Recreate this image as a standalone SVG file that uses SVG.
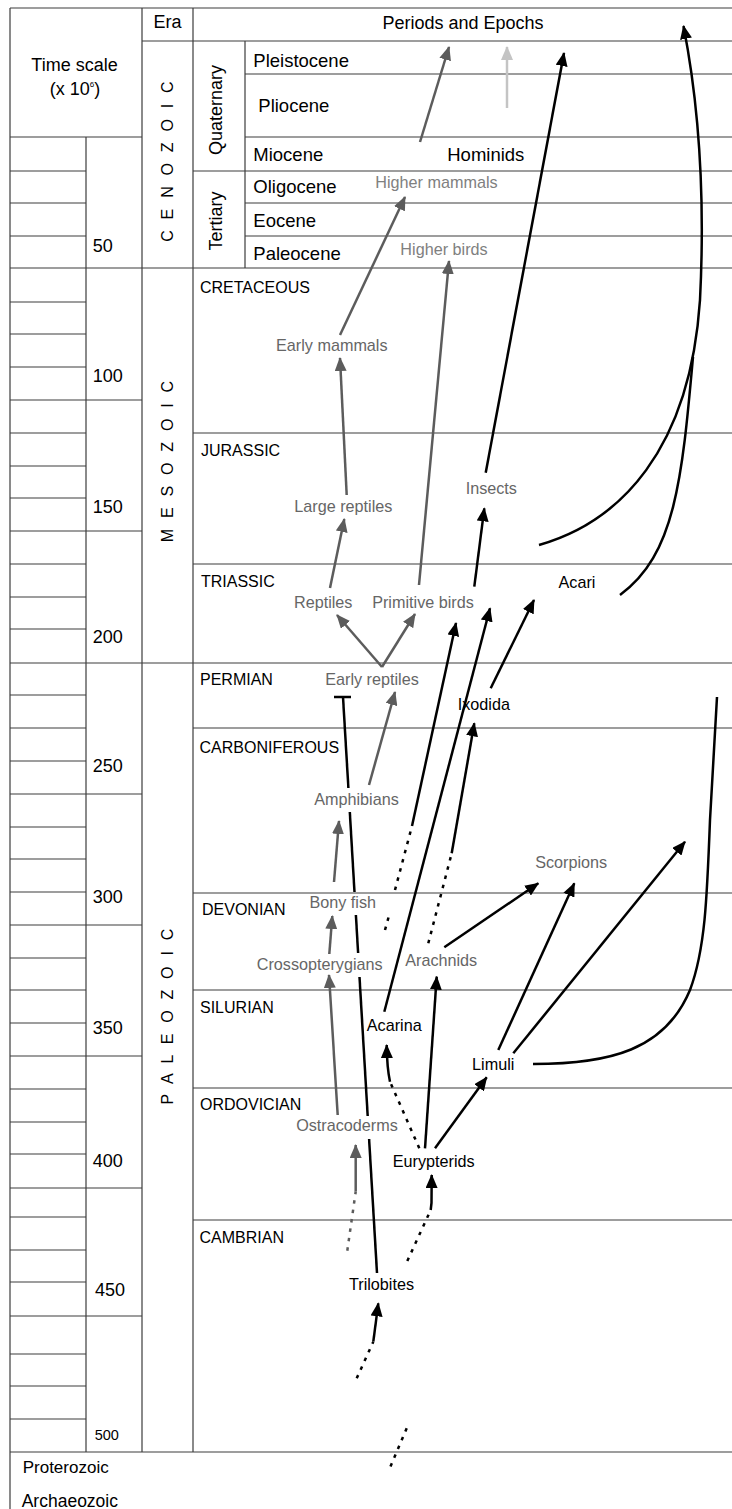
<svg xmlns="http://www.w3.org/2000/svg" width="732" height="1509" viewBox="0 0 732 1509">
<style>
text{font-family:"Liberation Sans",Arial,sans-serif;fill:#000}
.grid line{stroke:#3c3c3c;stroke-width:1.2}
.ep{font-size:18.5px}
.hd{font-size:18px}
.num{font-size:18px}
.per{font-size:16px}
.era{font-size:16px;letter-spacing:3.2px}
.nb{font-size:16.2px;text-anchor:middle}
.ng{font-size:16.2px;text-anchor:middle;fill:#666}
.nl{font-size:16.2px;text-anchor:middle;fill:#808080}
.cb{stroke:#000;stroke-width:2.5;fill:none}
.cg{stroke:#5c5c5c;stroke-width:2.5;fill:none}
.cl{stroke:#c4c4c4;stroke-width:2.5;fill:none}
.dot{stroke-dasharray:3.5 6}
.ab{marker-end:url(#mb)}
.ag{marker-end:url(#mg)}
.al{marker-end:url(#ml)}
</style>
<defs>
<marker id="mb" viewBox="0 0 14 12" refX="13" refY="6" markerWidth="14" markerHeight="12" markerUnits="userSpaceOnUse" orient="auto"><path d="M0,0 L14,6 L0,12 z" fill="#000"/></marker>
<marker id="mg" viewBox="0 0 14 12" refX="13" refY="6" markerWidth="14" markerHeight="12" markerUnits="userSpaceOnUse" orient="auto"><path d="M0,0 L14,6 L0,12 z" fill="#5c5c5c"/></marker>
<marker id="ml" viewBox="0 0 14 12" refX="13" refY="6" markerWidth="14" markerHeight="12" markerUnits="userSpaceOnUse" orient="auto"><path d="M0,0 L14,6 L0,12 z" fill="#c4c4c4"/></marker>
</defs>
<rect width="732" height="1509" fill="#fff"/>
<g id="table" class="grid">
<line x1="10" y1="8" x2="732" y2="8"/>
<line x1="10" y1="8" x2="10" y2="1509"/>
<line x1="142" y1="8" x2="142" y2="1452"/>
<line x1="193" y1="8" x2="193" y2="1452"/>
<line x1="86" y1="137" x2="86" y2="1452"/>
<line x1="245" y1="41" x2="245" y2="268"/>
<line x1="142" y1="41" x2="732" y2="41"/>
<line x1="10" y1="137" x2="142" y2="137"/>
<line x1="245" y1="74" x2="732" y2="74"/>
<line x1="245" y1="137" x2="732" y2="137"/>
<line x1="193" y1="171" x2="732" y2="171"/>
<line x1="245" y1="203" x2="732" y2="203"/>
<line x1="245" y1="236" x2="732" y2="236"/>
<line x1="10" y1="268" x2="732" y2="268"/>
<line x1="193" y1="433" x2="732" y2="433"/>
<line x1="193" y1="564" x2="732" y2="564"/>
<line x1="10" y1="663" x2="732" y2="663"/>
<line x1="193" y1="728" x2="732" y2="728"/>
<line x1="193" y1="893" x2="732" y2="893"/>
<line x1="193" y1="990" x2="732" y2="990"/>
<line x1="193" y1="1088" x2="732" y2="1088"/>
<line x1="193" y1="1220" x2="732" y2="1220"/>
<line x1="10" y1="1452" x2="732" y2="1452"/>
<line x1="86" y1="400" x2="142" y2="400"/>
<line x1="86" y1="531" x2="142" y2="531"/>
<line x1="86" y1="794" x2="142" y2="794"/>
<line x1="86" y1="925" x2="142" y2="925"/>
<line x1="86" y1="1056" x2="142" y2="1056"/>
<line x1="86" y1="1188" x2="142" y2="1188"/>
<line x1="86" y1="1316" x2="142" y2="1316"/>
<line x1="10" y1="171" x2="86" y2="171"/>
<line x1="10" y1="203" x2="86" y2="203"/>
<line x1="10" y1="236" x2="86" y2="236"/>
<line x1="10" y1="302" x2="86" y2="302"/>
<line x1="10" y1="334" x2="86" y2="334"/>
<line x1="10" y1="367" x2="86" y2="367"/>
<line x1="10" y1="400" x2="86" y2="400"/>
<line x1="10" y1="433" x2="86" y2="433"/>
<line x1="10" y1="466" x2="86" y2="466"/>
<line x1="10" y1="498" x2="86" y2="498"/>
<line x1="10" y1="531" x2="86" y2="531"/>
<line x1="10" y1="564" x2="86" y2="564"/>
<line x1="10" y1="597" x2="86" y2="597"/>
<line x1="10" y1="629" x2="86" y2="629"/>
<line x1="10" y1="695" x2="86" y2="695"/>
<line x1="10" y1="728" x2="86" y2="728"/>
<line x1="10" y1="761" x2="86" y2="761"/>
<line x1="10" y1="794" x2="86" y2="794"/>
<line x1="10" y1="827" x2="86" y2="827"/>
<line x1="10" y1="859" x2="86" y2="859"/>
<line x1="10" y1="892" x2="86" y2="892"/>
<line x1="10" y1="925" x2="86" y2="925"/>
<line x1="10" y1="958" x2="86" y2="958"/>
<line x1="10" y1="990" x2="86" y2="990"/>
<line x1="10" y1="1023" x2="86" y2="1023"/>
<line x1="10" y1="1056" x2="86" y2="1056"/>
<line x1="10" y1="1089" x2="86" y2="1089"/>
<line x1="10" y1="1122" x2="86" y2="1122"/>
<line x1="10" y1="1154" x2="86" y2="1154"/>
<line x1="10" y1="1188" x2="86" y2="1188"/>
<line x1="10" y1="1217" x2="86" y2="1217"/>
<line x1="10" y1="1250" x2="86" y2="1250"/>
<line x1="10" y1="1282" x2="86" y2="1282"/>
<line x1="10" y1="1316" x2="86" y2="1316"/>
<line x1="10" y1="1354" x2="86" y2="1354"/>
<line x1="10" y1="1386" x2="86" y2="1386"/>
<line x1="10" y1="1419" x2="86" y2="1419"/>
</g>
<g id="headers">
<text class="hd" x="74.5" y="70.7" text-anchor="middle">Time scale</text>
<text class="hd" x="75" y="95" text-anchor="middle">(x 10<tspan font-size="8" dy="-8">6</tspan><tspan dy="8">)</tspan></text>
<text class="hd" x="167.5" y="28.3" text-anchor="middle">Era</text>
<text class="hd" x="463" y="29.3" text-anchor="middle" font-size="18.5">Periods and Epochs</text>
<text class="era" transform="translate(173.3,160) rotate(-90)" text-anchor="middle">C E N O Z O I C</text>
<text class="era" transform="translate(173.3,460) rotate(-90)" text-anchor="middle">M E S O Z O I C</text>
<text class="era" transform="translate(173.3,1015) rotate(-90)" text-anchor="middle">P A L E O Z O I C</text>
<text class="hd" transform="translate(221.5,110) rotate(-90)" text-anchor="middle">Quaternary</text>
<text class="hd" transform="translate(221.5,221) rotate(-90)" text-anchor="middle">Tertiary</text>
<text class="ep" x="253.3" y="66.7">Pleistocene</text>
<text class="ep" x="258.3" y="111.7">Pliocene</text>
<text class="ep" x="253.3" y="161">Miocene</text>
<text class="ep" x="253.3" y="193.3">Oligocene</text>
<text class="ep" x="253.3" y="226.7">Eocene</text>
<text class="ep" x="253.3" y="260">Paleocene</text>
<text class="per" x="200" y="293.3">CRETACEOUS</text>
<text class="per" x="201" y="456">JURASSIC</text>
<text class="per" x="201" y="587.3">TRIASSIC</text>
<text class="per" x="200" y="684.5">PERMIAN</text>
<text class="per" x="199.5" y="753.3">CARBONIFEROUS</text>
<text class="per" x="202" y="915">DEVONIAN</text>
<text class="per" x="200" y="1013">SILURIAN</text>
<text class="per" x="200" y="1110">ORDOVICIAN</text>
<text class="per" x="199.5" y="1243.3">CAMBRIAN</text>
<text class="num" x="92.7" y="251.7">50</text>
<text class="num" x="92.7" y="381.7">100</text>
<text class="num" x="92.7" y="512.7">150</text>
<text class="num" x="92.7" y="643.3">200</text>
<text class="num" x="92.7" y="772.3">250</text>
<text class="num" x="92.7" y="903.3">300</text>
<text class="num" x="92.7" y="1034.3">350</text>
<text class="num" x="92.7" y="1166.7">400</text>
<text class="num" x="95" y="1296">450</text>
<text x="94.7" y="1440" font-size="14.5">500</text>
<text x="22.7" y="1472.7" font-size="17">Proterozoic</text>
<text x="21.7" y="1507" font-size="17.5">Archaeozoic</text>
</g>
<g id="connectors">
<line class="cg ag" x1="420" y1="142" x2="449" y2="47"/>
<line class="cl al" x1="507" y1="108" x2="507" y2="47"/>
<line class="cg ag" x1="340" y1="335" x2="405" y2="197"/>
<line class="cg ag" x1="346.7" y1="495" x2="340" y2="358"/>
<line class="cg ag" x1="330" y1="588" x2="344.3" y2="519"/>
<line class="cg ag" x1="419" y1="585" x2="449" y2="261"/>
<line class="cg ag" x1="382" y1="667" x2="337" y2="615"/>
<line class="cg ag" x1="382" y1="667" x2="415" y2="614"/>
<line class="cg ag" x1="369" y1="785" x2="395" y2="692"/>
<line class="cg ag" x1="334" y1="882" x2="339" y2="821"/>
<line class="cg ag" x1="329.3" y1="954" x2="332.3" y2="916"/>
<line class="cg ag" x1="337.7" y1="1115" x2="329" y2="975"/>
<line class="cg dot" x1="347.3" y1="1250.7" x2="355.7" y2="1191.7"/>
<line class="cg ag" x1="355.7" y1="1191.7" x2="355.7" y2="1145"/>
<line class="cb ab" x1="485.7" y1="472.7" x2="564" y2="53"/>
<line class="cb ab" x1="474.3" y1="586.7" x2="484.3" y2="508.3"/>
<path class="cb ab" d="M539,545 C620,522 690,450 700,300 C706,180 697,95 683.5,26"/>
<path class="cb" d="M620,595 C675,555 682,480 693,357"/>
<line class="cb dot" x1="385" y1="930" x2="390" y2="912"/>
<line class="cb dot" x1="395" y1="890" x2="412" y2="826"/>
<line class="cb ab" x1="412" y1="826" x2="456" y2="623"/>
<line class="cb ab" x1="384.3" y1="1011.7" x2="490" y2="608.3"/>
<line class="cb ab" x1="490.7" y1="688.3" x2="534" y2="600"/>
<line class="cb" x1="334" y1="697" x2="351" y2="697" stroke-width="3.5"/>
<line class="cb" x1="343" y1="697" x2="348.4" y2="788"/>
<line class="cb" x1="349.8" y1="812" x2="354.5" y2="892"/>
<line class="cb" x1="355.9" y1="915" x2="358.1" y2="953"/>
<line class="cb" x1="359.5" y1="977" x2="367.7" y2="1116"/>
<line class="cb" x1="369.1" y1="1139" x2="377" y2="1273"/>
<line class="cb dot" x1="428.3" y1="943.3" x2="451.7" y2="853.3"/>
<line class="cb ab" x1="451.7" y1="853.3" x2="474.3" y2="723.3"/>
<line class="cb ab" x1="444.3" y1="947.3" x2="538.3" y2="883.3"/>
<line class="cb ab" x1="498.3" y1="1050" x2="574.3" y2="883.3"/>
<line class="cb ab" x1="513.3" y1="1053.3" x2="685" y2="841.7"/>
<path class="cb" d="M533,1064 C610,1064 665,1050 690,990 C705,950 707,900 710,820 L717,697"/>
<line class="cb ab" x1="425" y1="1148.3" x2="436.7" y2="976.7"/>
<line class="cb dot" x1="419.3" y1="1148.3" x2="390" y2="1081.7"/>
<path class="cb ab" d="M390,1081.7 Q387,1068 386.7,1045"/>
<line class="cb ab" x1="435" y1="1148.3" x2="486.7" y2="1077.3"/>
<line class="cb dot" x1="407.3" y1="1261" x2="430.7" y2="1210"/>
<path class="cb ab" d="M430.7,1210 L431.5,1203 L431.7,1175"/>
<line class="cb dot" x1="356.7" y1="1378.3" x2="373.3" y2="1341.7"/>
<line class="cb ab" x1="373.3" y1="1341.7" x2="378.3" y2="1303.3"/>
<line class="cb dot" x1="406.7" y1="1428.3" x2="389" y2="1470"/>
</g>
<g id="n-hominids"><text x="485.8" y="161" font-size="18.5" text-anchor="middle">Hominids</text></g>
<g id="n-higher-mammals"><text class="nl" x="436.5" y="188">Higher mammals</text></g>
<g id="n-higher-birds"><text class="nl" x="444" y="254.5">Higher birds</text></g>
<g id="n-early-mammals"><text class="ng" x="331.8" y="351">Early mammals</text></g>
<g id="n-large-reptiles"><text class="ng" x="343.3" y="512">Large reptiles</text></g>
<g id="n-insects"><text class="ng" x="491.3" y="493.5">Insects</text></g>
<g id="n-reptiles"><text class="ng" x="323.2" y="607.5">Reptiles</text></g>
<g id="n-primitive-birds"><text class="ng" x="423" y="607.5">Primitive birds</text></g>
<g id="n-acari"><text class="nb" x="577" y="587.5">Acari</text></g>
<g id="n-early-reptiles"><text class="ng" x="372" y="684.5">Early reptiles</text></g>
<g id="n-ixodida"><text class="nb" x="483.8" y="710">Ixodida</text></g>
<g id="n-amphibians"><text class="ng" x="356.5" y="805">Amphibians</text></g>
<g id="n-scorpions"><text class="ng" x="571.2" y="868">Scorpions</text></g>
<g id="n-bony-fish"><text class="ng" x="342.7" y="908">Bony fish</text></g>
<g id="n-crossopterygians"><text class="ng" x="319.7" y="969.5">Crossopterygians</text></g>
<g id="n-arachnids"><text class="ng" x="441.2" y="966">Arachnids</text></g>
<g id="n-acarina"><text class="nb" x="394.2" y="1031">Acarina</text></g>
<g id="n-limuli"><text class="nb" x="493.2" y="1070">Limuli</text></g>
<g id="n-ostracoderms"><text class="ng" x="347" y="1131">Ostracoderms</text></g>
<g id="n-eurypterids"><text class="nb" x="433.7" y="1167">Eurypterids</text></g>
<g id="n-trilobites"><text class="nb" x="381.5" y="1290">Trilobites</text></g>
</svg>
